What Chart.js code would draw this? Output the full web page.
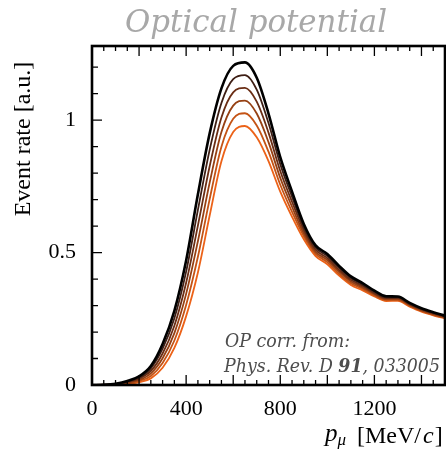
<!DOCTYPE html>
<html>
<head>
<meta charset="utf-8">
<script src="https://cdn.jsdelivr.net/npm/chart.js@4.4.1/dist/chart.umd.min.js"></script>
<style>
  html, body { margin: 0; padding: 0; background: #fff; overflow: hidden; }
  #wrap { width: 446px; height: 452px; overflow: hidden; }
</style>
</head>
<body>
<div id="wrap"><canvas id="myChart" width="456" height="452"></canvas></div>
<script>
// Muon momentum grid [MeV/c]
var momentum = [0, 50, 100, 150, 200, 250, 300, 350, 400, 450, 500, 550, 600, 650, 700, 750,
                800, 850, 900, 950, 1000, 1050, 1100, 1150, 1200, 1250, 1300, 1350, 1400, 1450, 1500];

// Event rates, from the black (top) curve down to the orange one
var rate0 = [0, 0.001, 0.005, 0.015, 0.033, 0.072, 0.155, 0.280, 0.470, 0.720, 0.950, 1.120, 1.205, 1.218, 1.160, 1.025,
             0.860, 0.730, 0.608, 0.527, 0.495, 0.450, 0.410, 0.385, 0.356, 0.335, 0.334, 0.310, 0.290, 0.275, 0.262];
var rate1 = [0, 0.001, 0.004, 0.013, 0.028, 0.063, 0.137, 0.252, 0.428, 0.661, 0.888, 1.065, 1.155, 1.170, 1.115, 0.989,
             0.834, 0.711, 0.596, 0.519, 0.487, 0.443, 0.404, 0.379, 0.352, 0.331, 0.331, 0.307, 0.287, 0.273, 0.260];
var rate2 = [0, 0.001, 0.003, 0.011, 0.024, 0.053, 0.119, 0.224, 0.386, 0.602, 0.826, 1.010, 1.105, 1.122, 1.070, 0.953,
             0.808, 0.692, 0.585, 0.511, 0.479, 0.435, 0.397, 0.374, 0.347, 0.328, 0.328, 0.304, 0.285, 0.270, 0.258];
var rate3 = [0, 0.000, 0.003, 0.008, 0.019, 0.044, 0.101, 0.196, 0.344, 0.543, 0.764, 0.955, 1.055, 1.074, 1.025, 0.917,
             0.782, 0.673, 0.573, 0.503, 0.472, 0.428, 0.391, 0.368, 0.343, 0.324, 0.324, 0.302, 0.282, 0.268, 0.255];
var rate4 = [0, 0.000, 0.002, 0.006, 0.015, 0.034, 0.083, 0.168, 0.302, 0.484, 0.702, 0.900, 1.005, 1.026, 0.980, 0.881,
             0.756, 0.654, 0.562, 0.495, 0.464, 0.420, 0.384, 0.363, 0.338, 0.321, 0.321, 0.299, 0.280, 0.265, 0.253];
var rate5 = [0, 0.000, 0.001, 0.004, 0.010, 0.025, 0.065, 0.140, 0.260, 0.425, 0.640, 0.845, 0.955, 0.978, 0.935, 0.845,
             0.730, 0.635, 0.550, 0.487, 0.456, 0.413, 0.378, 0.357, 0.334, 0.317, 0.318, 0.296, 0.277, 0.263, 0.251];

var allRates = [rate0, rate1, rate2, rate3, rate4, rate5];
var lineColors = ['#000000', '#3d1e14', '#6a2d14', '#964013', '#c45315', '#ec6218'];
var lineWidths = [2.6, 1.8, 1.8, 1.8, 1.8, 1.8];

// x tick labels shown under the axis, y tick labels shown on the left
var xLabels = [0, 400, 800, 1200];
var yLabels = [0, 0.5, 1];

function near(a, b) { return Math.abs(a - b) < 1e-6; }

function piecesWidth(ctx, pieces) {
  var total = 0;
  pieces.forEach(function(p) { ctx.font = p[1]; total += ctx.measureText(p[0]).width; });
  return total;
}

// draw a run of [text, font] pieces squeezed sideways by factor sx
function drawSqueezed(ctx, pieces, x, y, sx) {
  ctx.save();
  ctx.translate(x, y);
  ctx.scale(sx, 1);
  var cx = 0;
  pieces.forEach(function(p) {
    ctx.font = p[1];
    ctx.fillText(p[0], cx, 0);
    cx += ctx.measureText(p[0]).width;
  });
  ctx.restore();
}

// inward ticks, frame and all the text
var frameAndText = {
  id: 'frameAndText',
  afterDraw: function(chart) {
    var ctx = chart.ctx, a = chart.chartArea, x = chart.scales.x, y = chart.scales.y;
    ctx.save();
    ctx.strokeStyle = '#000';
    ctx.lineWidth = 1.3;
    ctx.beginPath();
    x.ticks.forEach(function(t) {
      var px = x.getPixelForValue(t.value);
      var len = (t.value % 200 === 0) ? 10 : 5;
      ctx.moveTo(px, a.bottom); ctx.lineTo(px, a.bottom - len);
      ctx.moveTo(px, a.top); ctx.lineTo(px, a.top + len);
    });
    y.ticks.forEach(function(t) {
      var py = y.getPixelForValue(t.value);
      var len = near(t.value * 2, Math.round(t.value * 2)) ? 10 : 6;
      ctx.moveTo(a.left, py); ctx.lineTo(a.left + len, py);
    });
    ctx.stroke();
    ctx.lineWidth = 2.6;
    ctx.strokeRect(a.left, a.top, a.right - a.left, a.bottom - a.top);

    ctx.textAlign = 'left';
    ctx.textBaseline = 'alphabetic';

    // title
    ctx.fillStyle = '#a8a8a8';
    var title = [['Optical potential', 'italic 31px "DejaVu Serif"']];
    drawSqueezed(ctx, title, 125, 32, 262 / piecesWidth(ctx, title));

    // y title
    ctx.fillStyle = '#000';
    ctx.save();
    ctx.translate(30, 139);
    ctx.rotate(-Math.PI / 2);
    ctx.textAlign = 'center';
    ctx.font = '24px "Liberation Serif"';
    ctx.fillText('Event rate [a.u.]', 0, 0);
    ctx.restore();

    // x title: p_mu [MeV/c]
    var cx = 325;
    ctx.font = 'italic 25px "Liberation Serif"';
    ctx.fillText('p', cx, 441);
    cx += ctx.measureText('p').width;
    ctx.font = 'italic 17px "Liberation Serif"';
    ctx.fillText('\u03bc', cx, 445);
    cx = 357;
    ctx.font = '24px "Liberation Serif"';
    ctx.fillText('[MeV/', cx, 443);
    cx += ctx.measureText('[MeV/').width + 2;
    ctx.font = 'italic 24px "Liberation Serif"';
    ctx.fillText('c', cx, 443);
    cx += ctx.measureText('c').width + 1;
    ctx.font = '24px "Liberation Serif"';
    ctx.fillText(']', cx, 443);

    // reference note
    ctx.fillStyle = '#4d4d4d';
    var nf = 'italic 18px "DejaVu Serif"', nb = 'italic bold 18px "DejaVu Serif"';
    var line2 = [['Phys. Rev. D ', nf], ['91', nb], [', 033005', nf]];
    var sx = 216 / piecesWidth(ctx, line2);
    drawSqueezed(ctx, [['OP corr. from:', nf]], 225, 347, sx);
    drawSqueezed(ctx, line2, 224, 372, sx);
    ctx.restore();
  }
};

var datasets = allRates.map(function(r, k) {
  return {
    data: momentum.map(function(p, i) { return { x: p, y: r[i] }; }),
    borderColor: lineColors[k],
    borderWidth: lineWidths[k],
    pointRadius: 0,
    fill: false,
    cubicInterpolationMode: 'monotone'
  };
});

var ctx = document.getElementById('myChart');
var myChart = new Chart(ctx, {
  type: 'line',
  data: { datasets: datasets },
  options: {
    responsive: false,
    animation: false,
    layout: { padding: { left: 0, right: 2, top: 46, bottom: 0 } },
    plugins: { legend: { display: false }, tooltip: { enabled: false } },
    scales: {
      x: {
        type: 'linear', min: 0, max: 1500,
        grid: { display: false, drawTicks: false },
        border: { display: false },
        afterFit: function(s) { s.height = 67; },
        ticks: {
          stepSize: 50, autoSkip: false, maxRotation: 0, padding: 11,
          color: '#000', font: { family: 'Liberation Serif', size: 22 },
          callback: function(v) { return xLabels.indexOf(v) >= 0 ? String(v) : ''; }
        }
      },
      y: {
        min: 0, max: 1.28,
        grid: { display: false, drawTicks: false },
        border: { display: false },
        afterFit: function(s) { s.width = 92; },
        ticks: {
          stepSize: 0.1, includeBounds: false, autoSkip: false, padding: 16,
          color: '#000', font: { family: 'Liberation Serif', size: 22 },
          callback: function(v) {
            for (var i = 0; i < yLabels.length; i++) if (near(v, yLabels[i])) return String(yLabels[i]);
            return '';
          }
        }
      }
    }
  },
  plugins: [frameAndText]
});
</script>
</body>
</html>
